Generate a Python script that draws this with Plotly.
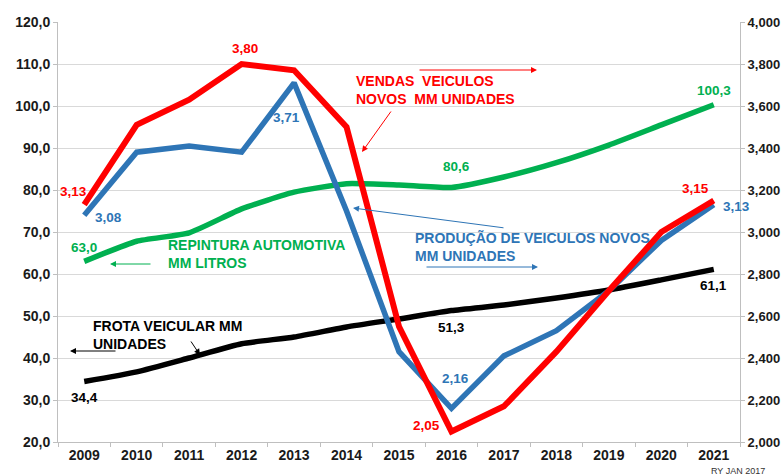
import plotly.graph_objects as go

# Annual series, 2009-2021
years = ["2009", "2010", "2011", "2012", "2013", "2014", "2015",
         "2016", "2017", "2018", "2019", "2020", "2021"]
vendas = [3.13, 3.51, 3.63, 3.80, 3.77, 3.50, 2.55, 2.05, 2.17, 2.43, 2.72, 3.00, 3.15]
producao = [3.08, 3.38, 3.41, 3.38, 3.71, 3.10, 2.43, 2.16, 2.41, 2.53, 2.72, 2.96, 3.13]
repintura = [63.0, 67.8, 69.8, 75.5, 79.5, 81.5, 81.2, 80.6, 83.1, 86.5, 90.7, 95.5, 100.3]
frota = [34.4, 36.7, 40.0, 43.4, 45.0, 47.4, 49.3, 51.3, 52.6, 54.3, 56.2, 58.6, 61.1]

left_ticks = [20, 30, 40, 50, 60, 70, 80, 90, 100, 110, 120]
right_ticks = [2.0, 2.2, 2.4, 2.6, 2.8, 3.0, 3.2, 3.4, 3.6, 3.8, 4.0]

RED = "#FF0000"
BLUE = "#2E75B6"
GREEN = "#00B050"
BLACK = "#000000"
FONT = "Liberation Sans, Arial, sans-serif"
TICKFONT = dict(family=FONT, size=14, color="#1a1a1a", weight="bold")

fig = go.Figure()
fig.add_trace(go.Scatter(x=years, y=repintura, mode="lines", yaxis="y",
                         line=dict(color=GREEN, width=5.5, shape="spline", smoothing=0.5)))
fig.add_trace(go.Scatter(x=years, y=frota, mode="lines", yaxis="y",
                         line=dict(color=BLACK, width=5.5, shape="spline", smoothing=0.5)))
fig.add_trace(go.Scatter(x=years, y=producao, mode="lines", yaxis="y2",
                         line=dict(color=BLUE, width=5.5)))
fig.add_trace(go.Scatter(x=years, y=vendas, mode="lines", yaxis="y2",
                         line=dict(color=RED, width=6)))

annotations = []


def fmt(v, nd):
    return f"{v:.{nd}f}".replace(".", ",")


# value labels: (series, axis, index, decimals, colour, xshift, yshift)
value_labels = [
    (vendas, "y2", 0, 2, RED, -11, 13),
    (producao, "y2", 0, 2, BLUE, 24, -2),
    (vendas, "y2", 3, 2, RED, 3, 16),
    (producao, "y2", 4, 2, BLUE, -8, -35),
    (repintura, "y", 7, 1, GREEN, 5, 21),
    (repintura, "y", 12, 1, GREEN, 0, 14),
    (vendas, "y2", 12, 2, RED, -18, 12),
    (producao, "y2", 12, 2, BLUE, 23, -2),
    (frota, "y", 12, 1, BLACK, 0, -16),
    (frota, "y", 7, 1, BLACK, 0, -17),
    (producao, "y2", 7, 2, BLUE, 4, 30),
    (vendas, "y2", 7, 2, RED, -25, 6),
    (repintura, "y", 0, 1, GREEN, 0, 14),
    (frota, "y", 0, 1, BLACK, 0, -16),
]
for series, ax, i, nd, col, dx, dy in value_labels:
    annotations.append(dict(
        x=i, y=series[i], xref="x", yref=ax, text=fmt(series[i], nd),
        showarrow=False, xshift=dx, yshift=dy,
        font=dict(family=FONT, size=13.5, color=col, weight="bold")))

# plot-area geometry (pixels) used to place the series captions and pointers
L, R, T, B = 58, 740, 22, 442


def px(x):
    return (x - L) / (R - L)


def py(y):
    return (B - y) / (B - T)


captions = [
    ("VENDAS  VEICULOS<br>NOVOS  MM UNIDADES", 354, 90.5, RED),
    ("REPINTURA AUTOMOTIVA<br>MM LITROS", 166, 253.5, GREEN),
    ("PRODUÇÃO DE VEICULOS NOVOS<br>MM UNIDADES", 413, 246.5, BLUE),
    ("FROTA VEICULAR MM<br>UNIDADES", 91, 334.5, BLACK),
]
for txt, x, y, col in captions:
    annotations.append(dict(
        x=px(x), y=py(y), xref="paper", yref="paper", text=txt, showarrow=False,
        xanchor="left", yanchor="middle", align="left",
        font=dict(family=FONT, size=14, color=col, weight="bold")))

# pointer arrows: (tail x, tail y, head x, head y, colour)
pointers = [
    (418, 70, 537, 70, RED),
    (392, 110, 362, 152, RED),
    (152, 264, 110, 264, GREEN),
    (425, 267, 538, 267, BLUE),
    (505, 228, 353, 208, BLUE),
    (117, 351, 70, 351, BLACK),
    (190, 340, 200, 355, BLACK),
]
for tx, ty, hx, hy, col in pointers:
    annotations.append(dict(
        x=px(hx), y=py(hy), xref="paper", yref="paper", text="",
        showarrow=True, ax=tx - hx, ay=ty - hy, arrowhead=2, arrowsize=1.2,
        arrowwidth=1, arrowcolor=col, standoff=0, startstandoff=0))

annotations.append(dict(
    x=px(738), y=py(471), xref="paper", yref="paper", text="RY JAN 2017",
    showarrow=False, xanchor="center", yanchor="middle",
    font=dict(family=FONT, size=9, color="#333333")))

fig.update_layout(
    width=784, height=476,
    margin=dict(l=L, r=784 - R, t=T, b=476 - B, autoexpand=False),
    paper_bgcolor="white", plot_bgcolor="white",
    showlegend=False,
    separators=",.",
    font=dict(family=FONT, size=14, color="#1a1a1a"),
    xaxis=dict(type="category", range=[-0.5, 12.5], tickson="boundaries",
               ticks="outside", ticklen=4, tickcolor="#BFBFBF",
               showline=True, linecolor="#BFBFBF", linewidth=1,
               showgrid=False, tickfont=TICKFONT, automargin=False),
    yaxis=dict(range=[20, 120], tickvals=left_ticks, tickformat=".1f",
               showgrid=True, gridcolor="#D9D9D9", gridwidth=1,
               showline=True, linecolor="#BFBFBF", ticks="outside", ticklen=4,
               tickcolor="#BFBFBF", zeroline=False, automargin=False,
               tickfont=TICKFONT),
    yaxis2=dict(range=[2, 4], tickvals=right_ticks, tickformat=".3f",
                overlaying="y", side="right", showgrid=False,
                showline=True, linecolor="#BFBFBF", ticks="outside", ticklen=4,
                tickcolor="#BFBFBF", zeroline=False, automargin=False,
                tickfont=dict(family=FONT, size=13, color="#1a1a1a", weight="bold")),
    annotations=annotations,
)

fig.write_html("out.html")
